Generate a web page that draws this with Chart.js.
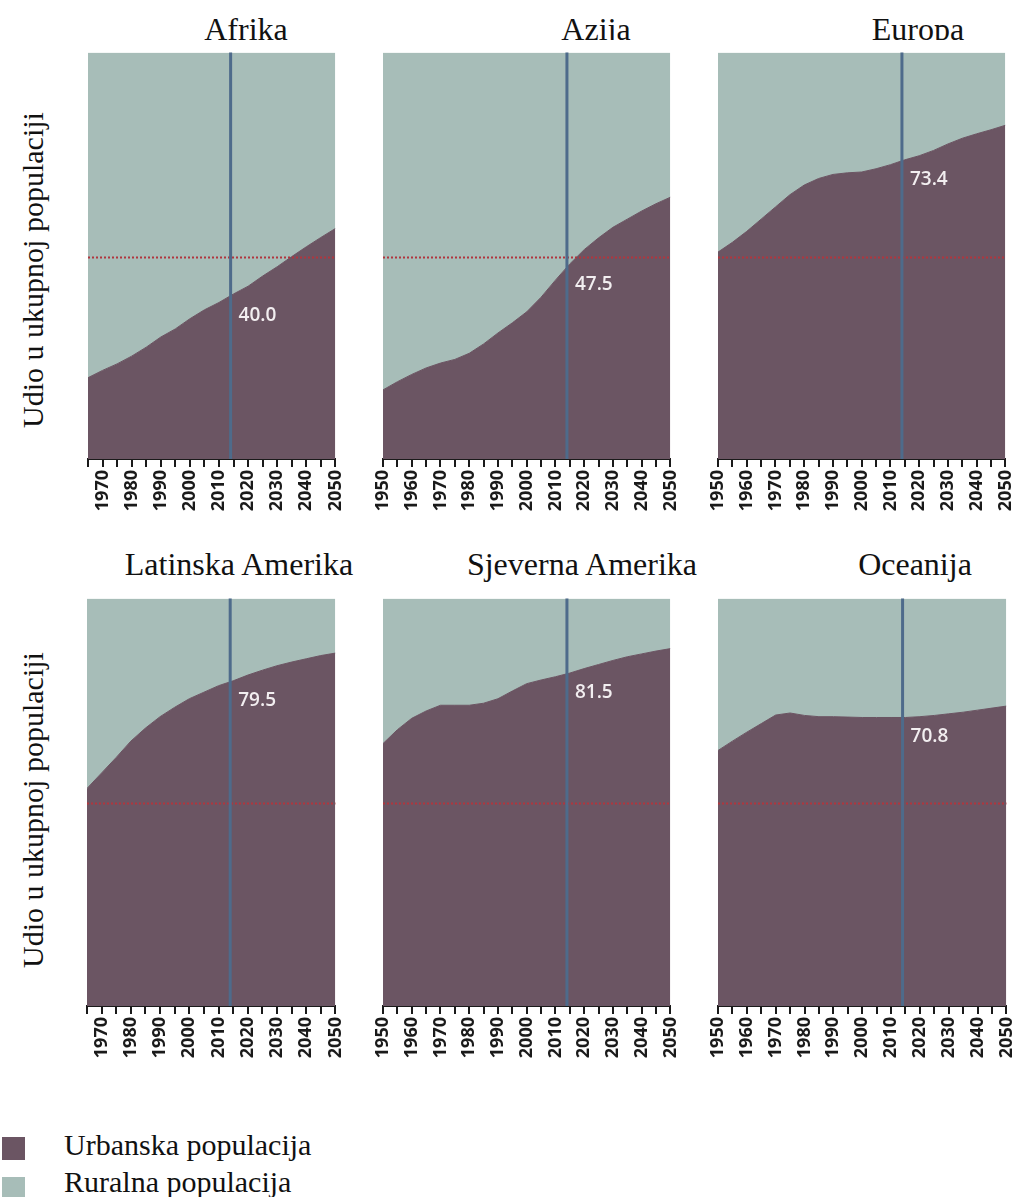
<!DOCTYPE html>
<html>
<head>
<meta charset="utf-8">
<script src="https://cdn.jsdelivr.net/npm/chart.js@4.4.1/dist/chart.umd.min.js"></script>
<style>
  body { margin: 0; background: #fff; width: 1017px; height: 1197px; overflow: hidden; position: relative; font-family: 'Liberation Serif', 'Times New Roman', serif; color: #111; }
  canvas { position: absolute; }
  .clip { position: absolute; left: 0; width: 1017px; overflow: hidden; }
  .title { position: absolute; font-size: 32px; line-height: 1; white-space: nowrap; transform: translateX(-50%); }
  .ylab { position: absolute; font-size: 30px; line-height: 1; white-space: nowrap; transform: translate(-50%, -50%) rotate(-90deg); }
  .sw { position: absolute; left: 2px; width: 23px; height: 23px; }
  .lt { position: absolute; left: 64px; font-size: 30px; line-height: 1; white-space: nowrap; }
</style>
</head>
<body>
<div class="clip" style="top:0;height:40px">
  <div class="title" style="left:246px;top:13px">Afrika</div>
  <div class="title" style="left:596px;top:13px">Azija</div>
  <div class="title" style="left:918px;top:13px">Europa</div>
</div>
<div class="title" style="left:239px;top:548px">Latinska Amerika</div>
<div class="title" style="left:582px;top:548px">Sjeverna Amerika</div>
<div class="title" style="left:915px;top:548px">Oceanija</div>

<div class="ylab" style="left:33px;top:270px">Udio u ukupnoj populaciji</div>
<div class="ylab" style="left:33px;top:810px">Udio u ukupnoj populaciji</div>

<div class="sw" style="top:1137px;background:#6b5563"></div>
<div class="lt" style="top:1130px">Urbanska populacija</div>
<div class="sw" style="top:1177px;background:#a7bdb8"></div>
<div class="lt" style="top:1167px">Ruralna populacija</div>

<canvas id="c0"></canvas>
<canvas id="c1"></canvas>
<canvas id="c2"></canvas>
<canvas id="c3"></canvas>
<canvas id="c4"></canvas>
<canvas id="c5"></canvas>

<script>
// years on the x axis
const yearsFrom1965 = [1965, 1970, 1975, 1980, 1985, 1990, 1995, 2000, 2005, 2010, 2015, 2020, 2025, 2030, 2035, 2040, 2045, 2050];
const yearsFrom1950 = [1950, 1955, 1960, 1965, 1970, 1975, 1980, 1985, 1990, 1995, 2000, 2005, 2010, 2015, 2020, 2025, 2030, 2035, 2040, 2045, 2050];

// urban share (%)
const afrikaUrban = [20.0, 21.8, 23.4, 25.3, 27.5, 30.0, 32.0, 34.5, 36.7, 38.5, 40.6, 42.5, 45.0, 47.3, 49.8, 52.2, 54.5, 56.7];
const azijaUrban = [17.0, 19.0, 20.8, 22.4, 23.6, 24.5, 26.0, 28.3, 31.0, 33.5, 36.2, 39.8, 44.0, 48.0, 51.5, 54.4, 57.0, 59.0, 61.0, 62.8, 64.4];
const europaUrban = [50.9, 53.3, 56.0, 59.0, 62.0, 65.0, 67.4, 69.0, 70.0, 70.4, 70.6, 71.4, 72.4, 73.6, 74.6, 75.9, 77.5, 78.9, 80.0, 81.0, 82.1];
const latAmUrban = [53.4, 57.2, 61.0, 65.0, 68.2, 71.0, 73.3, 75.4, 77.0, 78.6, 79.8, 81.2, 82.4, 83.5, 84.4, 85.2, 86.0, 86.6];
const sjAmUrban = [64.4, 67.8, 70.6, 72.4, 73.8, 73.8, 73.8, 74.3, 75.4, 77.3, 79.1, 80.0, 80.8, 81.7, 82.8, 83.8, 84.8, 85.7, 86.4, 87.1, 87.7];
const oceanijaUrban = [62.7, 65.0, 67.2, 69.3, 71.4, 71.9, 71.3, 71.0, 71.0, 70.9, 70.8, 70.8, 70.8, 70.8, 71.0, 71.3, 71.7, 72.1, 72.6, 73.1, 73.6];

// 2014 values printed on each panel
const regionNames = ['Afrika', 'Azija', 'Europa', 'Latinska Amerika', 'Sjeverna Amerika', 'Oceanija'];
const markValues = [40.0, 47.5, 73.4, 79.5, 81.5, 70.8];
const markYear = 2014;
const halfShare = 50;

const URBAN = '#6b5563';
const RURAL = '#a7bdb8';

const markers = {
    id: 'markers',
    afterDatasetsDraw(chart, args, opts) {
        const { ctx, chartArea: a, scales: { x, y } } = chart;
        ctx.save();
        // 50% dotted line
        const y50 = Math.round(y.getPixelForValue(halfShare)) + 1.5;
        ctx.strokeStyle = '#b0363e';
        ctx.lineWidth = 2;
        ctx.setLineDash([2, 2]);
        ctx.beginPath();
        ctx.moveTo(a.left, y50);
        ctx.lineTo(a.right, y50);
        ctx.stroke();
        // 2014 line
        const xm = x.getPixelForValue(markYear);
        ctx.setLineDash([]);
        ctx.strokeStyle = '#4e6b8b';
        ctx.lineWidth = 3;
        ctx.beginPath();
        ctx.moveTo(xm, a.top);
        ctx.lineTo(xm, a.bottom);
        ctx.stroke();
        // value label
        ctx.fillStyle = '#f2eef0';
        ctx.font = '600 19px "Open Sans"';
        ctx.textBaseline = 'middle';
        ctx.textAlign = 'left';
        ctx.fillText(opts.value.toFixed(1), xm + 8, y.getPixelForValue(opts.value) + 19);
        ctx.restore();
    },
};

// plot boxes [left, top, right, bottom]
const boxes = [
    [88, 52, 335, 459], [383, 52, 670, 459], [718, 52, 1005, 459],
    [87, 598, 335, 1006], [383, 598, 670, 1006], [718, 598, 1006, 1006],
];
const series = [
    [yearsFrom1965, afrikaUrban], [yearsFrom1950, azijaUrban], [yearsFrom1950, europaUrban],
    [yearsFrom1965, latAmUrban], [yearsFrom1950, sjAmUrban], [yearsFrom1950, oceanijaUrban],
];

const PAD = 18;
const AXIS_H = 64;

series.forEach(([years, urban], i) => {
    const [l, t, r, b] = boxes[i];
    const cv = document.getElementById('c' + i);
    cv.width = r - l + PAD * 2;
    cv.height = b - t + AXIS_H;
    cv.style.left = (l - PAD) + 'px';
    cv.style.top = t + 'px';

    const chart = new Chart(cv, {
        type: 'line',
        data: {
            datasets: [
                {
                    label: 'Urbanska populacija',
                    data: years.map((yr, k) => ({ x: yr, y: urban[k] })),
                    backgroundColor: URBAN,
                    borderColor: URBAN,
                    borderWidth: 1,
                    pointRadius: 0,
                    fill: 'origin',
                },
                {
                    label: 'Ruralna populacija',
                    data: years.map((yr, k) => ({ x: yr, y: 100 - urban[k] })),
                    backgroundColor: RURAL,
                    borderColor: RURAL,
                    borderWidth: 0,
                    pointRadius: 0,
                    fill: '-1',
                },
            ],
        },
        options: {
            responsive: false,
            maintainAspectRatio: false,
            animation: false,
            layout: { padding: { left: PAD, right: PAD, top: 0, bottom: 0 } },
            plugins: {
                legend: { display: false },
                tooltip: { enabled: false },
                markers: { value: markValues[i] },
            },
            scales: {
                x: {
                    type: 'linear',
                    min: years[0],
                    max: years[years.length - 1],
                    border: { display: true, color: '#1a1a1a', width: 2 },
                    grid: { drawOnChartArea: false, drawTicks: true, tickLength: 8, color: '#1a1a1a', lineWidth: 2 },
                    ticks: {
                        stepSize: 5,
                        autoSkip: false,
                        minRotation: 90,
                        maxRotation: 90,
                        padding: 3,
                        color: '#1a1a1a',
                        font: { family: 'Open Sans', weight: 'bold', size: 18 },
                        callback: (v) => (Math.round(v) % 10 === 0 ? String(Math.round(v)) : ''),
                    },
                    afterFit: (s) => { s.height = AXIS_H; },
                },
                y: {
                    display: false,
                    stacked: true,
                    min: 0,
                    max: 100,
                },
            },
        },
        plugins: [markers],
    });

    // the rotated end label takes extra room on the right: widen the canvas so the plot ends where it should
    const deficit = Math.round(r - (l - PAD + chart.chartArea.right));
    if (deficit > 0) {
        chart.resize(r - l + PAD * 2 + deficit, b - t + AXIS_H);
    }
});
</script>
</body>
</html>
